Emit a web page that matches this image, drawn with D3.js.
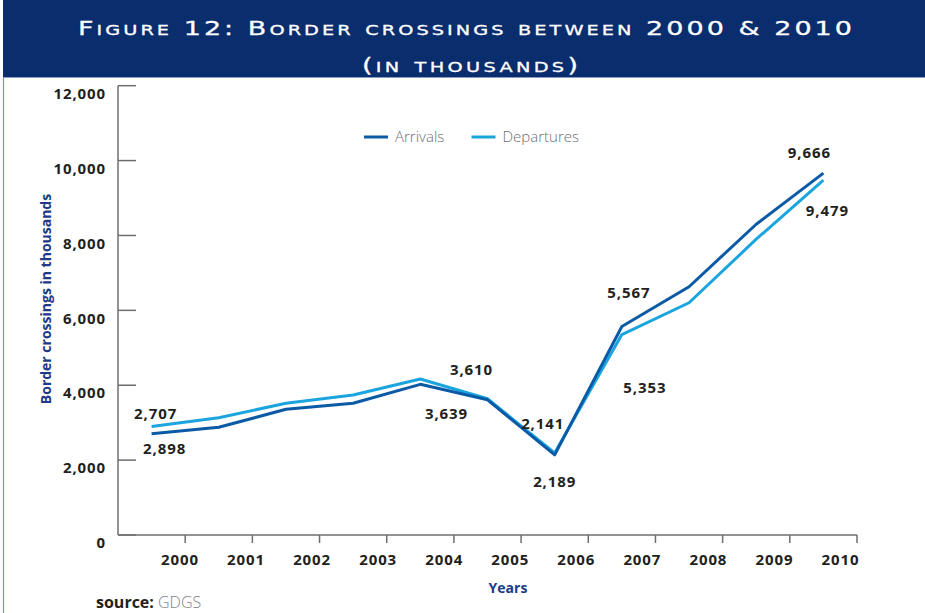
<!DOCTYPE html>
<html>
<head>
<meta charset="utf-8">
<script src="https://cdn.jsdelivr.net/npm/d3@7"></script>
<style>
  html, body { margin: 0; padding: 0; background: #fff; }
  svg { display: block; }
</style>
</head>
<body>
<svg id="chart" width="925" height="613"></svg>
<script>
// ---- data ----
const years = ["2000","2001","2002","2003","2004","2005","2006","2007","2008","2009","2010"];
const arrivals = [2707, 2876, 3357, 3517, 4024, 3610, 2141, 5567, 6631, 8300, 9666];
const departures = [2898, 3133, 3517, 3738, 4166, 3639, 2189, 5353, 6203, 7900, 9479];
const yTicks = [0, 2000, 4000, 6000, 8000, 10000, 12000];
const seriesNames = ["Arrivals", "Departures"];
// indices of points that carry a data label
const labelledIdx = [0, 5, 6, 7, 10];

(function () {
// ---- layout ----
const svg = d3.select("#chart");
const W = 925, H = 613;
const pL = 118, pR = 857, pT = 85.7, pB = 535;
const colors = { Arrivals: "#0b5aa6", Departures: "#1ba5de" };
const ink = "#231f20";
const navy = "#1b3a8a";

// header band
svg.append("rect").attr("x", 3).attr("y", 0).attr("width", W - 3).attr("height", 77).attr("fill", "#0a2d6d");
// frame lines
svg.append("line").attr("x1", 3.5).attr("x2", 3.5).attr("y1", 77).attr("y2", H).attr("stroke", "#7f93c2").attr("stroke-width", 1.2);
svg.append("line").attr("x1", 3).attr("x2", W).attr("y1", 77.5).attr("y2", 77.5).attr("stroke", "#8a9cc6").attr("stroke-width", 1);

const sx = 1.35;
const titleStyle = s => s.attr("fill", "#fff")
  .attr("stroke", "#fff").attr("stroke-width", 0.3)
  .attr("font-family", "DejaVu Sans, sans-serif")
  .attr("font-size", 20)
  .attr("font-variant", "small-caps")
  .attr("lengthAdjust", "spacing");
svg.append("text").attr("transform", `translate(78,35) scale(${sx},1)`).attr("textLength", 774 / sx)
  .text("Figure 12: Border crossings between 2000 & 2010").call(titleStyle);
svg.append("text").attr("transform", `translate(362,72) scale(${sx},1)`).attr("textLength", 216 / sx)
  .text("(in thousands)").call(titleStyle);

// scales
const x = d3.scaleBand().domain(years).range([pL, pR]).paddingInner(0).paddingOuter(0);
const xc = d => x(d) + x.bandwidth() / 2;
const xLab = d3.scalePoint().domain(years).range([180, 840.5]);
const y = d3.scaleLinear().domain([0, 12000]).range([pB, pT]);

// y axis
const gy = svg.append("g");
gy.append("line").attr("x1", pL).attr("x2", pL).attr("y1", pT).attr("y2", pB).attr("stroke", "#6d6e70").attr("stroke-width", 1.5);
gy.selectAll("line.t").data(yTicks).join("line").attr("class", "t")
  .attr("x1", pL).attr("x2", pL + 18).attr("y1", d => y(d)).attr("y2", d => y(d))
  .attr("stroke", "#6d6e70").attr("stroke-width", 1.5);
gy.selectAll("text").data(yTicks).join("text")
  .attr("x", 106).attr("y", d => y(d) + 8).attr("dy", "0.35em")
  .attr("text-anchor", "end").attr("font-family", "Open Sans, sans-serif").attr("font-weight", 700)
  .attr("font-size", 15).attr("letter-spacing", "0.9px").attr("fill", ink)
  .text(d => d3.format(",")(d));

// x axis
const gx = svg.append("g");
gx.append("line").attr("x1", pL).attr("x2", pR).attr("y1", pB).attr("y2", pB).attr("stroke", "#6d6e70").attr("stroke-width", 1.5);
gx.selectAll("line.t").data(years).join("line").attr("class", "t")
  .attr("x1", d => x(d) + x.bandwidth()).attr("x2", d => x(d) + x.bandwidth())
  .attr("y1", pB).attr("y2", pB + 8).attr("stroke", "#6d6e70").attr("stroke-width", 1.5);
gx.selectAll("text").data(years).join("text")
  .attr("x", d => xLab(d)).attr("y", 565)
  .attr("text-anchor", "middle").attr("font-family", "Open Sans, sans-serif").attr("font-weight", 700)
  .attr("font-size", 15).attr("letter-spacing", "0.9px").attr("fill", ink)
  .text(d => d);

// axis titles
svg.append("text").attr("x", 508).attr("y", 593).attr("text-anchor", "middle")
  .attr("font-family", "Open Sans, sans-serif").attr("font-weight", 700).attr("font-size", 14).attr("fill", navy).text("Years");
svg.append("text").attr("transform", "translate(51,299) rotate(-90)").attr("text-anchor", "middle")
  .attr("font-family", "Open Sans, sans-serif").attr("font-weight", 700).attr("font-size", 14).attr("fill", navy)
  .text("Border crossings in thousands");

// lines
const line = d3.line().x((d, i) => xc(years[i])).y(d => y(d));
svg.append("path").datum(departures).attr("d", line).attr("fill", "none")
  .attr("stroke", colors.Departures).attr("stroke-width", 3).attr("stroke-linejoin", "round");
svg.append("path").datum(arrivals).attr("d", line).attr("fill", "none")
  .attr("stroke", colors.Arrivals).attr("stroke-width", 3).attr("stroke-linejoin", "round");

// data labels (offsets from the point, in px)
const arrOff = { 0: [4, -20], 5: [-16, -30], 6: [-12, -31.5], 7: [7, -34], 10: [-14, -20] };
const depOff = { 0: [13, 22], 5: [-41, 15], 6: [0, 29], 7: [23, 53], 10: [4, 31] };
const lab = [];
labelledIdx.forEach(i => {
  lab.push({ v: arrivals[i], i, off: arrOff[i] });
  lab.push({ v: departures[i], i, off: depOff[i] });
});
svg.append("g").selectAll("text").data(lab).join("text")
  .attr("x", d => xc(years[d.i]) + d.off[0])
  .attr("y", d => y(d.v) + d.off[1]).attr("dy", "0.35em")
  .attr("text-anchor", "middle").attr("font-family", "Open Sans, sans-serif").attr("font-weight", 700)
  .attr("font-size", 15).attr("letter-spacing", "0.9px").attr("fill", ink)
  .text(d => d3.format(",")(d.v));

// legend
const legX = [364, 471.5];
const lg = svg.append("g").selectAll("g").data(seriesNames).join("g")
  .attr("transform", (d, i) => `translate(${legX[i]},137)`);
lg.append("line").attr("x1", 0).attr("x2", 24).attr("y1", 0).attr("y2", 0)
  .attr("stroke", d => colors[d]).attr("stroke-width", 3);
lg.append("text").attr("x", 31).attr("y", 0).attr("dy", "0.32em")
  .attr("font-family", "Open Sans, sans-serif").attr("font-weight", 300).attr("font-size", 15)
  .attr("fill", "#6d6e70").text(d => d);

// source
const src = svg.append("text").attr("x", 96).attr("y", 608).attr("font-family", "Open Sans, sans-serif").attr("font-size", 16);
src.append("tspan").attr("font-weight", 700).attr("fill", ink).text("source: ");
src.append("tspan").attr("font-weight", 300).attr("fill", "#808285").text("GDGS");
})();
</script>
</body>
</html>
